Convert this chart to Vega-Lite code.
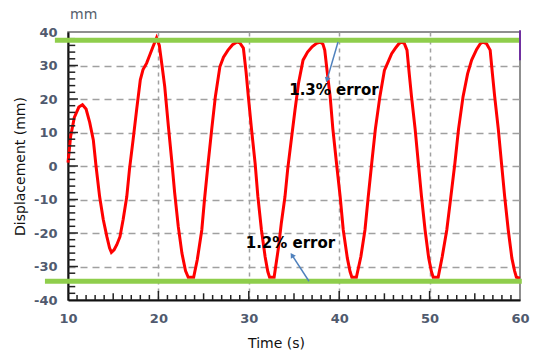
{
  "$schema": "https://vega.github.io/schema/vega-lite/v6.json",
  "width": 452,
  "height": 268,
  "autosize": {"type": "none"},
  "padding": {"left": 68, "top": 32, "right": 17, "bottom": 54},
  "background": "white",
  "config": {"view": {"stroke": "#6b6b6b", "strokeWidth": 1.5}, "font": "DejaVu Sans"},
  "title": {"text": "mm", "anchor": "start", "frame": "group", "dx": 2, "offset": 4, "fontSize": 14, "fontWeight": "normal", "color": "#555d6b", "font": "DejaVu Sans"},
  "datasets": {
    "curve": [
      {"t": 10, "d": 1}, {"t": 10.3, "d": 9}, {"t": 10.7, "d": 14.5}, {"t": 11.2, "d": 17.6}, {"t": 11.6, "d": 18.3},
      {"t": 12.0, "d": 17}, {"t": 12.4, "d": 13}, {"t": 12.8, "d": 7.8}, {"t": 13.1, "d": 0}, {"t": 13.5, "d": -9.2},
      {"t": 13.9, "d": -16}, {"t": 14.3, "d": -21.1}, {"t": 14.6, "d": -24.5}, {"t": 14.8, "d": -25.8}, {"t": 15.1, "d": -25},
      {"t": 15.4, "d": -23.5}, {"t": 15.75, "d": -21.1}, {"t": 16.1, "d": -16}, {"t": 16.5, "d": -9.2}, {"t": 16.8, "d": -1},
      {"t": 17.2, "d": 7.8}, {"t": 17.6, "d": 17}, {"t": 18.0, "d": 25.7}, {"t": 18.3, "d": 28.8}, {"t": 18.7, "d": 30.7},
      {"t": 19.1, "d": 33.5}, {"t": 19.4, "d": 35.6}, {"t": 19.8, "d": 38.3}, {"t": 20.1, "d": 36}, {"t": 20.4, "d": 30},
      {"t": 20.7, "d": 23.7}, {"t": 21.1, "d": 12}, {"t": 21.5, "d": 0.9}, {"t": 21.8, "d": -8}, {"t": 22.2, "d": -18.1},
      {"t": 22.6, "d": -26}, {"t": 23.0, "d": -31.3}, {"t": 23.3, "d": -33.2}, {"t": 23.9, "d": -33.2}, {"t": 24.3, "d": -28},
      {"t": 24.8, "d": -19.1}, {"t": 25.1, "d": -10}, {"t": 25.5, "d": 0.8}, {"t": 25.9, "d": 11}, {"t": 26.3, "d": 20.7},
      {"t": 26.8, "d": 29.6}, {"t": 27.2, "d": 32.5}, {"t": 27.7, "d": 34.6}, {"t": 28.2, "d": 36.2}, {"t": 28.7, "d": 37.0},
      {"t": 29.0, "d": 36.8}, {"t": 29.4, "d": 35.2}, {"t": 29.7, "d": 28}, {"t": 29.95, "d": 20.7}, {"t": 30.3, "d": 11},
      {"t": 30.7, "d": 0.8}, {"t": 31.0, "d": -9}, {"t": 31.4, "d": -19.1}, {"t": 31.8, "d": -27}, {"t": 32.1, "d": -31.5},
      {"t": 32.3, "d": -33.2}, {"t": 32.8, "d": -33.2}, {"t": 33.3, "d": -24}, {"t": 33.6, "d": -17}, {"t": 34.0, "d": -9.2},
      {"t": 34.3, "d": -1}, {"t": 34.7, "d": 7.8}, {"t": 35.1, "d": 16.5}, {"t": 35.5, "d": 24.7}, {"t": 36.0, "d": 31.6},
      {"t": 36.5, "d": 34}, {"t": 37.0, "d": 35.6}, {"t": 37.5, "d": 36.6}, {"t": 37.9, "d": 37.0}, {"t": 38.2, "d": 36.4},
      {"t": 38.4, "d": 34.6}, {"t": 38.7, "d": 27.5}, {"t": 39.0, "d": 20.7}, {"t": 39.3, "d": 11}, {"t": 39.7, "d": 0.9},
      {"t": 40.1, "d": -9}, {"t": 40.45, "d": -19.1}, {"t": 40.9, "d": -27.5}, {"t": 41.2, "d": -31.5}, {"t": 41.4, "d": -33.2},
      {"t": 41.9, "d": -33.2}, {"t": 42.4, "d": -27}, {"t": 42.85, "d": -19.1}, {"t": 43.2, "d": -9.5}, {"t": 43.6, "d": 0.9},
      {"t": 44.0, "d": 11}, {"t": 44.5, "d": 20.7}, {"t": 45.0, "d": 28.5}, {"t": 45.4, "d": 31}, {"t": 45.8, "d": 33.5},
      {"t": 46.2, "d": 35.1}, {"t": 46.6, "d": 36.5}, {"t": 46.9, "d": 37.0}, {"t": 47.2, "d": 36.6}, {"t": 47.5, "d": 34.6},
      {"t": 47.75, "d": 27.5}, {"t": 48.0, "d": 20.7}, {"t": 48.4, "d": 11}, {"t": 48.75, "d": 0.9}, {"t": 49.1, "d": -9},
      {"t": 49.5, "d": -19.1}, {"t": 49.9, "d": -27.5}, {"t": 50.2, "d": -31.5}, {"t": 50.4, "d": -33.2}, {"t": 50.95, "d": -33.2},
      {"t": 51.4, "d": -27}, {"t": 51.9, "d": -19.1}, {"t": 52.35, "d": -9.2}, {"t": 52.8, "d": 0.9}, {"t": 53.2, "d": 11},
      {"t": 53.7, "d": 20.7}, {"t": 54.2, "d": 27.5}, {"t": 54.65, "d": 31.6}, {"t": 55.2, "d": 34.8}, {"t": 55.6, "d": 36.5},
      {"t": 55.9, "d": 37.0}, {"t": 56.3, "d": 36.5}, {"t": 56.7, "d": 34.6}, {"t": 56.95, "d": 27.5}, {"t": 57.2, "d": 20.7},
      {"t": 57.6, "d": 11}, {"t": 57.95, "d": 0.9}, {"t": 58.3, "d": -9}, {"t": 58.7, "d": -19.1}, {"t": 59.1, "d": -27.5},
      {"t": 59.4, "d": -31.3}, {"t": 59.6, "d": -33.2}, {"t": 60, "d": -33.5}
    ],
    "xticks": [
      {"t": 11, "kind": "minor"}, {"t": 12, "kind": "minor"}, {"t": 13, "kind": "minor"}, {"t": 14, "kind": "minor"}, {"t": 15, "kind": "mid"},
      {"t": 16, "kind": "minor"}, {"t": 17, "kind": "minor"}, {"t": 18, "kind": "minor"}, {"t": 19, "kind": "minor"}, {"t": 20, "kind": "major"},
      {"t": 21, "kind": "minor"}, {"t": 22, "kind": "minor"}, {"t": 23, "kind": "minor"}, {"t": 24, "kind": "minor"}, {"t": 25, "kind": "mid"},
      {"t": 26, "kind": "minor"}, {"t": 27, "kind": "minor"}, {"t": 28, "kind": "minor"}, {"t": 29, "kind": "minor"}, {"t": 30, "kind": "major"},
      {"t": 31, "kind": "minor"}, {"t": 32, "kind": "minor"}, {"t": 33, "kind": "minor"}, {"t": 34, "kind": "minor"}, {"t": 35, "kind": "mid"},
      {"t": 36, "kind": "minor"}, {"t": 37, "kind": "minor"}, {"t": 38, "kind": "minor"}, {"t": 39, "kind": "minor"}, {"t": 40, "kind": "major"},
      {"t": 41, "kind": "minor"}, {"t": 42, "kind": "minor"}, {"t": 43, "kind": "minor"}, {"t": 44, "kind": "minor"}, {"t": 45, "kind": "mid"},
      {"t": 46, "kind": "minor"}, {"t": 47, "kind": "minor"}, {"t": 48, "kind": "minor"}, {"t": 49, "kind": "minor"}, {"t": 50, "kind": "major"},
      {"t": 51, "kind": "minor"}, {"t": 52, "kind": "minor"}, {"t": 53, "kind": "minor"}, {"t": 54, "kind": "minor"}, {"t": 55, "kind": "mid"},
      {"t": 56, "kind": "minor"}, {"t": 57, "kind": "minor"}, {"t": 58, "kind": "minor"}, {"t": 59, "kind": "minor"}
    ],
    "yticks": [
      {"d": -38, "kind": "minor"}, {"d": -36, "kind": "minor"}, {"d": -34, "kind": "minor"}, {"d": -32, "kind": "minor"}, {"d": -30, "kind": "major"},
      {"d": -28, "kind": "minor"}, {"d": -26, "kind": "minor"}, {"d": -24, "kind": "minor"}, {"d": -22, "kind": "minor"}, {"d": -20, "kind": "major"},
      {"d": -18, "kind": "minor"}, {"d": -16, "kind": "minor"}, {"d": -14, "kind": "minor"}, {"d": -12, "kind": "minor"}, {"d": -10, "kind": "major"},
      {"d": -8, "kind": "minor"}, {"d": -6, "kind": "minor"}, {"d": -4, "kind": "minor"}, {"d": -2, "kind": "minor"}, {"d": 0, "kind": "major"},
      {"d": 2, "kind": "minor"}, {"d": 4, "kind": "minor"}, {"d": 6, "kind": "minor"}, {"d": 8, "kind": "minor"}, {"d": 10, "kind": "major"},
      {"d": 12, "kind": "minor"}, {"d": 14, "kind": "minor"}, {"d": 16, "kind": "minor"}, {"d": 18, "kind": "minor"}, {"d": 20, "kind": "major"},
      {"d": 22, "kind": "minor"}, {"d": 24, "kind": "minor"}, {"d": 26, "kind": "minor"}, {"d": 28, "kind": "minor"}, {"d": 30, "kind": "major"},
      {"d": 32, "kind": "minor"}, {"d": 34, "kind": "minor"}, {"d": 36, "kind": "minor"}, {"d": 38, "kind": "minor"}
    ],
    "limits": [
      {"t": 8.55, "t2": 60, "d": 37.55},
      {"t": 7.45, "t2": 60.2, "d": -34.4}
    ],
    "marker": [
      {"t": 60, "d": 40.5, "d2": 31.6}
    ],
    "arrows": [
      {"id": "a", "t": 39.87, "d": 37.0, "t2": 38.65, "d2": 25.7},
      {"id": "b", "t": 36.66, "d": -34.4, "t2": 34.78, "d2": -26.6}
    ],
    "notes": [
      {"t": 39.42, "d": 22.7, "label": "1.3% error"},
      {"t": 34.61, "d": -23.0, "label": "1.2% error"}
    ]
  },
  "layer": [
    {
      "data": {"name": "curve"},
      "mark": {"type": "line", "color": "#ff0000", "strokeWidth": 3, "interpolate": "linear"},
      "encoding": {
        "x": {
          "field": "t", "type": "quantitative",
          "scale": {"domain": [10, 60], "nice": false, "zero": false},
          "axis": {
            "title": "Time (s)",
            "values": [10, 20, 30, 40, 50, 60],
            "tickCount": 500,
            "labelExpr": "'' + datum.value",
            "labelOverlap": false,
            "labelFlush": false,
            "grid": true,
            "gridColor": "#a0a0a0",
            "gridDash": [4, 4],
            "gridWidth": 1.5,
            "gridOpacity": {"condition": {"test": "datum.value > 10 && datum.value < 60", "value": 1}, "value": 0},
            "ticks": false,
            "tickSize": 0,
            "domainColor": "#111111",
            "domainWidth": 2,
            "labelFont": "DejaVu Sans",
            "labelFontSize": 13,
            "labelFontWeight": "bold",
            "labelColor": "#505a6e",
            "labelPadding": 12,
            "titleFont": "DejaVu Sans",
            "titleFontSize": 14,
            "titleFontWeight": "normal",
            "titleColor": "#111111",
            "titleX": 208,
            "titlePadding": 11
          }
        },
        "y": {
          "field": "d", "type": "quantitative",
          "scale": {"domain": [-40, 40], "nice": false, "zero": false},
          "axis": {
            "title": "Displacement (mm)",
            "values": [-40, -30, -20, -10, 0, 10, 20, 30, 40],
            "tickCount": 500,
            "labelExpr": "'' + datum.value",
            "labelOverlap": false,
            "labelFlush": false,
            "grid": true,
            "gridColor": "#a0a0a0",
            "gridDash": [7, 5],
            "gridWidth": 1.5,
            "gridOpacity": {"condition": {"test": "datum.value > -40 && datum.value < 40", "value": 1}, "value": 0},
            "ticks": false,
            "tickSize": 0,
            "domainColor": "#111111",
            "domainWidth": 2,
            "labelFont": "DejaVu Sans",
            "labelFontSize": 13,
            "labelFontWeight": "bold",
            "labelColor": "#505a6e",
            "labelPadding": 11,
            "titleFont": "DejaVu Sans",
            "titleFontSize": 14,
            "titleFontWeight": "normal",
            "titleColor": "#111111",
            "titlePadding": 6
          }
        }
      }
    },
    {
      "data": {"name": "xticks"},
      "transform": [{"filter": "datum.kind === 'minor'"}],
      "mark": {"type": "rule", "color": "#222222", "strokeWidth": 1.5},
      "encoding": {
        "x": {"field": "t", "type": "quantitative"},
        "y": {"datum": -40},
        "y2": {"datum": -38.5}
      }
    },
    {
      "data": {"name": "xticks"},
      "transform": [{"filter": "datum.kind === 'mid'"}],
      "mark": {"type": "rule", "color": "#222222", "strokeWidth": 1.5},
      "encoding": {
        "x": {"field": "t", "type": "quantitative"},
        "y": {"datum": -40},
        "y2": {"datum": -38}
      }
    },
    {
      "data": {"name": "xticks"},
      "transform": [{"filter": "datum.kind === 'major'"}],
      "mark": {"type": "rule", "color": "#222222", "strokeWidth": 1.5},
      "encoding": {
        "x": {"field": "t", "type": "quantitative"},
        "y": {"datum": -40},
        "y2": {"datum": -37.3}
      }
    },
    {
      "data": {"name": "yticks"},
      "transform": [{"filter": "datum.kind === 'minor'"}],
      "mark": {"type": "rule", "color": "#222222", "strokeWidth": 1.5},
      "encoding": {
        "y": {"field": "d", "type": "quantitative"},
        "x": {"datum": 10},
        "x2": {"datum": 10.8}
      }
    },
    {
      "data": {"name": "yticks"},
      "transform": [{"filter": "datum.kind === 'major'"}],
      "mark": {"type": "rule", "color": "#222222", "strokeWidth": 1.5},
      "encoding": {
        "y": {"field": "d", "type": "quantitative"},
        "x": {"datum": 10},
        "x2": {"datum": 11.1}
      }
    },
    {
      "data": {"name": "limits"},
      "mark": {"type": "rule", "color": "#8fce4c", "strokeWidth": 5},
      "encoding": {
        "x": {"field": "t", "type": "quantitative"},
        "x2": {"field": "t2"},
        "y": {"field": "d", "type": "quantitative"}
      }
    },
    {
      "data": {"name": "marker"},
      "mark": {"type": "rule", "color": "#7030a0", "strokeWidth": 2},
      "encoding": {
        "x": {"field": "t", "type": "quantitative"},
        "y": {"field": "d", "type": "quantitative"},
        "y2": {"field": "d2"}
      }
    },
    {
      "data": {"name": "arrows"},
      "mark": {"type": "rule", "color": "#4f81bd", "strokeWidth": 1.5},
      "encoding": {
        "x": {"field": "t", "type": "quantitative"},
        "y": {"field": "d", "type": "quantitative"},
        "x2": {"field": "t2"},
        "y2": {"field": "d2"}
      }
    },
    {
      "data": {"name": "arrows"},
      "transform": [{"filter": "datum.id === 'a'"}],
      "mark": {"type": "point", "shape": "triangle-up", "filled": true, "color": "#4f81bd", "size": 35, "angle": 196, "opacity": 1},
      "encoding": {
        "x": {"field": "t2", "type": "quantitative"},
        "y": {"field": "d2", "type": "quantitative"}
      }
    },
    {
      "data": {"name": "arrows"},
      "transform": [{"filter": "datum.id === 'b'"}],
      "mark": {"type": "point", "shape": "triangle-up", "filled": true, "color": "#4f81bd", "size": 35, "angle": 328, "opacity": 1},
      "encoding": {
        "x": {"field": "t2", "type": "quantitative"},
        "y": {"field": "d2", "type": "quantitative"}
      }
    },
    {
      "data": {"name": "notes"},
      "mark": {"type": "text", "font": "DejaVu Sans", "fontSize": 15, "fontWeight": "bold", "color": "#000000", "align": "center", "baseline": "middle"},
      "encoding": {
        "x": {"field": "t", "type": "quantitative"},
        "y": {"field": "d", "type": "quantitative"},
        "text": {"field": "label"}
      }
    }
  ]
}
